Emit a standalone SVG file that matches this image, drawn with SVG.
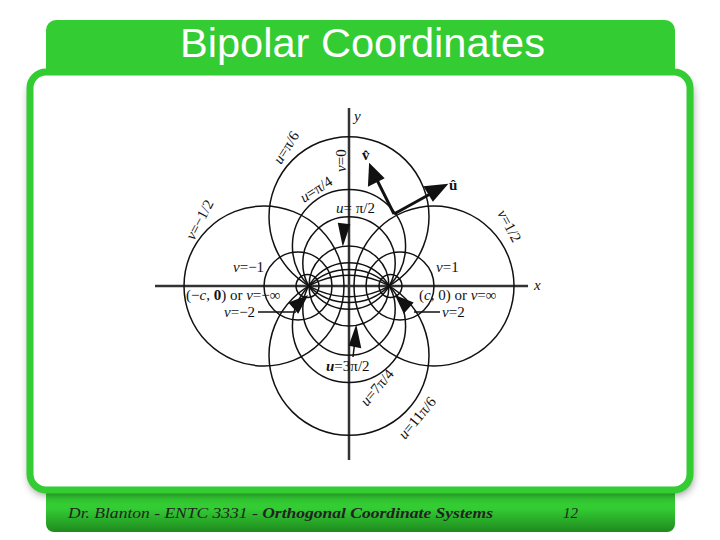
<svg xmlns="http://www.w3.org/2000/svg" width="720" height="540" viewBox="0 0 720 540">
<defs>
<linearGradient id="g" x1="0" y1="0" x2="0" y2="1"><stop offset="0" stop-color="#3c3"/><stop offset="0.55" stop-color="#3c3"/><stop offset="1" stop-color="#1e8a1e"/></linearGradient>
<filter id="sh" x="-10%" y="-10%" width="120%" height="120%"><feGaussianBlur stdDeviation="5"/></filter>
<style>
.c{fill:none;stroke:#111;stroke-width:1.5}
.ax{stroke:#333;stroke-width:2.5}
.t{font-family:"Liberation Serif",serif;font-size:15px;fill:#111}
.i{font-style:italic}
.ar{fill:#111;stroke:#111;stroke-width:2}
</style>
</defs>
<rect width="720" height="540" fill="#fff"/>
<g id="frame">
<rect x="46" y="20" width="629" height="90" rx="10" fill="url(#g)"/>
<rect x="46" y="480" width="629" height="52" rx="8" fill="url(#g)"/>
<rect x="30" y="78" width="662" height="416" rx="16" fill="#000" opacity="0.5" filter="url(#sh)"/>
<rect x="30" y="72" width="660" height="418" rx="16" fill="#fff" stroke="#3c3" stroke-width="7"/>
<text x="180" y="57" textLength="365" lengthAdjust="spacingAndGlyphs" font-family="Liberation Sans,sans-serif" font-size="40" fill="#fff">Bipolar Coordinates</text>
<text x="68" y="518" textLength="425" lengthAdjust="spacingAndGlyphs" font-family="Liberation Serif,serif" font-style="italic" font-size="15" fill="#222">Dr. Blanton  -  ENTC 3331  - <tspan font-weight="bold">Orthogonal Coordinate Systems</tspan></text>
<text x="563" y="518" font-family="Liberation Serif,serif" font-style="italic" font-size="15" fill="#222">12</text>
</g>
<g id="axes">
<line class="ax" x1="155" y1="286" x2="528" y2="286"/>
<line class="ax" x1="349" y1="108" x2="349" y2="460"/>
<text class="t i" x="534" y="290" font-size="17">x</text>
<text class="t i" x="354" y="121" font-size="17">y</text>
</g>
<g id="ucircles">
<circle class="c" cx="349" cy="216.7" r="80"/>
<circle class="c" cx="349" cy="246" r="56.6"/>
<circle class="c" cx="349" cy="263" r="46.2"/>
<circle class="c" cx="349" cy="286" r="40"/>
<circle class="c" cx="349" cy="309" r="46.2"/>
<circle class="c" cx="349" cy="326" r="56.6"/>
<circle class="c" cx="349" cy="355.3" r="80"/>
</g>
<g id="vcircles">
<circle class="c" cx="434" cy="286" r="80"/>
<circle class="c" cx="264" cy="286" r="80"/>
<circle class="c" cx="400" cy="286" r="34"/>
<circle class="c" cx="298" cy="286" r="34"/>
<circle class="c" cx="390.5" cy="286" r="11.5"/>
<circle class="c" cx="307.5" cy="286" r="11.5"/>
</g>
<g id="connectors">
<line x1="394" y1="214" x2="432" y2="193" stroke="#111" stroke-width="3"/>
<polygon class="ar" points="446,185 425,187 433,200"/>
<line x1="394" y1="214" x2="377" y2="180" stroke="#111" stroke-width="3"/>
<polygon class="ar" points="370,165 369,185 383,178"/>
<polygon class="ar" points="343,243 339,224 349,225"/>
<line x1="353" y1="357" x2="355" y2="340" stroke="#111" stroke-width="1.5"/>
<polygon class="ar" points="356,328 350,345 360,347"/>
<line x1="258" y1="312" x2="296" y2="312" stroke="#111" stroke-width="1.5"/>
<polygon class="ar" points="306,297 290,303 298,312"/>
<line x1="414" y1="312" x2="440" y2="312" stroke="#111" stroke-width="1.5"/>
<polygon class="ar" points="397,297 412,303 404,312"/>
</g>
<g id="labels">
<text class="t" x="233" y="272"><tspan class="i">v</tspan>=−1</text>
<text class="t" x="436" y="272"><tspan class="i">v</tspan>=1</text>
<text class="t" x="186" y="300">(−<tspan class="i">c</tspan>, <tspan font-weight="bold">0</tspan>) or <tspan class="i">v</tspan>=−∞</text>
<text class="t" x="419" y="300">(<tspan class="i">c</tspan>, 0) or <tspan class="i">v</tspan>=∞</text>
<text class="t" x="224" y="317"><tspan class="i">v</tspan>=−2</text>
<text class="t" x="442" y="317"><tspan class="i">v</tspan>=2</text>
<text class="t" x="336" y="213"><tspan class="i">u</tspan>= π/2</text>
<text class="t" x="326" y="371"><tspan class="i" font-weight="bold">u</tspan>=3π/2</text>
<text class="t" x="362" y="160" font-weight="bold" font-size="17">v̂</text>
<text class="t" x="449" y="190" font-weight="bold" font-size="17">û</text>
<text class="t" transform="translate(346,172) rotate(-90)"><tspan class="i">v</tspan>=0</text>
<text class="t" transform="translate(281,165) rotate(-58)"><tspan class="i">u</tspan>=π/6</text>
<text class="t" transform="translate(304,203) rotate(-33)"><tspan class="i">u</tspan>=π/4</text>
<text class="t" transform="translate(194,241) rotate(-62)"><tspan class="i">v</tspan>=−1/2</text>
<text class="t" transform="translate(497,213) rotate(62)"><tspan class="i">v</tspan>=1/2</text>
<text class="t" transform="translate(367,407) rotate(-50)"><tspan class="i">u</tspan>=7π/4</text>
<text class="t" transform="translate(405,440) rotate(-50)"><tspan class="i">u</tspan>=11π/6</text>
</g>
</svg>
